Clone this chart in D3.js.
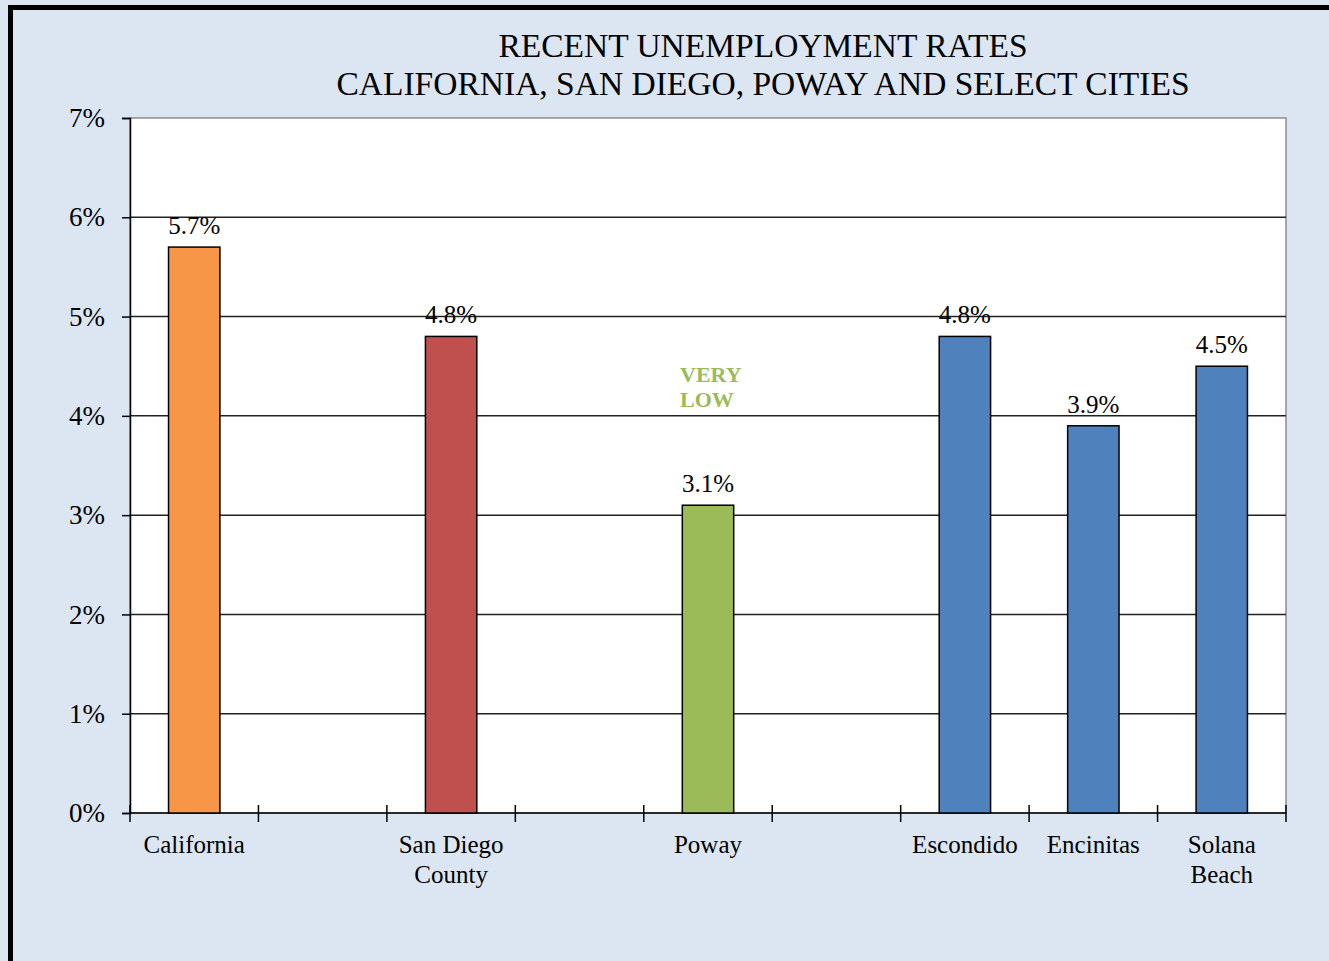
<!DOCTYPE html>
<html>
<head>
<meta charset="utf-8">
<script src="https://cdn.jsdelivr.net/npm/d3@7"></script>
<style>
  body { margin: 0; background: #dce6f2; }
  text { font-family: "Liberation Serif", "Times New Roman", serif; }
</style>
</head>
<body>
<svg id="chart" width="1329" height="961"></svg>
<script>
// chart data
const slots = ["California", "gap1", "San Diego County", "gap2", "Poway", "gap3", "Escondido", "Encinitas", "Solana Beach"];
const places = ["California", "San Diego County", "Poway", "Escondido", "Encinitas", "Solana Beach"];
const rates = [5.7, 4.8, 3.1, 4.8, 3.9, 4.5];
const barColors = ["#f79646", "#c0504d", "#9bbb59", "#4f81bd", "#4f81bd", "#4f81bd"];
const labelLines = [["California"], ["San Diego", "County"], ["Poway"], ["Escondido"], ["Encinitas"], ["Solana", "Beach"]];
const yTicks = [0, 1, 2, 3, 4, 5, 6, 7];
const titleLines = ["RECENT UNEMPLOYMENT RATES", "CALIFORNIA, SAN DIEGO, POWAY AND SELECT CITIES"];
const noteLines = ["VERY", "LOW"];

const svg = d3.select("#chart");
const margin = {top: 118, left: 130, right: 1286, bottom: 813};

// background + outer black frame (top and left)
svg.append("rect").attr("width", 1329).attr("height", 961).attr("fill", "#dce6f2");
svg.append("rect").attr("x", 8).attr("y", 5).attr("width", 1321).attr("height", 5).attr("fill", "#000");
svg.append("rect").attr("x", 8).attr("y", 5).attr("width", 5).attr("height", 956).attr("fill", "#000");

const x = d3.scaleBand().domain(slots).range([margin.left, margin.right])
    .paddingInner(0.6).paddingOuter(0.3);
const y = d3.scaleLinear().domain([0, 7]).range([margin.bottom, margin.top]);

// plot area
svg.append("rect")
    .attr("x", margin.left).attr("y", margin.top)
    .attr("width", margin.right - margin.left).attr("height", margin.bottom - margin.top)
    .attr("fill", "#fff").attr("stroke", "#8c8c8c").attr("stroke-width", 1.5);

// gridlines
svg.append("g").selectAll("line").data(yTicks.slice(1, -1)).join("line")
    .attr("x1", margin.left).attr("x2", margin.right)
    .attr("y1", d => y(d)).attr("y2", d => y(d))
    .attr("stroke", "#222").attr("stroke-width", 1.5);

// title
svg.append("g").selectAll("text").data(titleLines).join("text")
    .attr("x", 763).attr("y", (d, i) => 57 + i * 38)
    .attr("text-anchor", "middle").attr("font-size", 33.5).attr("fill", "#000")
    .text(d => d);

// y axis
const yAxis = svg.append("g")
    .attr("transform", `translate(${margin.left},0)`)
    .call(d3.axisLeft(y).tickValues(yTicks).tickFormat(d => d + "%").tickSize(8).tickPadding(17));
yAxis.select(".domain").attr("stroke", "#000").attr("stroke-width", 1.5);
yAxis.selectAll(".tick line").attr("stroke", "#000").attr("stroke-width", 1.5);
yAxis.selectAll(".tick text").attr("font-size", 27).attr("fill", "#000")
    .attr("font-family", "Liberation Serif, Times New Roman, serif");

// x axis: ticks at slot boundaries
const step = x.step();
const bounds = d3.range(slots.length + 1).map(i => margin.left + i * step);
svg.append("line")
    .attr("x1", margin.left).attr("x2", margin.right)
    .attr("y1", y(0)).attr("y2", y(0))
    .attr("stroke", "#000").attr("stroke-width", 1.5);
svg.append("g").selectAll("line").data(bounds).join("line")
    .attr("x1", d => d).attr("x2", d => d)
    .attr("y1", y(0) - 8).attr("y2", y(0) + 9)
    .attr("stroke", "#000").attr("stroke-width", 1.5);

// bars
svg.append("g").selectAll("rect").data(places).join("rect")
    .attr("x", d => x(d)).attr("width", x.bandwidth())
    .attr("y", (d, i) => y(rates[i])).attr("height", (d, i) => y(0) - y(rates[i]))
    .attr("fill", (d, i) => barColors[i])
    .attr("stroke", "#000").attr("stroke-width", 1.5);

// value labels
svg.append("g").selectAll("text").data(places).join("text")
    .attr("x", d => x(d) + x.bandwidth() / 2)
    .attr("y", (d, i) => y(rates[i]) - 13)
    .attr("text-anchor", "middle").attr("font-size", 25).attr("fill", "#000")
    .text((d, i) => rates[i].toFixed(1) + "%");

// category labels
const cat = svg.append("g").selectAll("text").data(places).join("text")
    .attr("text-anchor", "middle").attr("font-size", 25).attr("fill", "#000");
cat.each(function(d, i) {
    const cx = x(d) + x.bandwidth() / 2;
    d3.select(this).selectAll("tspan").data(labelLines[i]).join("tspan")
        .attr("x", cx).attr("y", (t, j) => 853 + j * 30)
        .text(t => t);
});

// note above Poway
svg.append("g").selectAll("text").data(noteLines).join("text")
    .attr("x", 680).attr("y", (d, i) => 382 + i * 25)
    .attr("font-size", 22).attr("font-weight", "bold").attr("fill", "#9bbb59")
    .text(d => d);
</script>
</body>
</html>
